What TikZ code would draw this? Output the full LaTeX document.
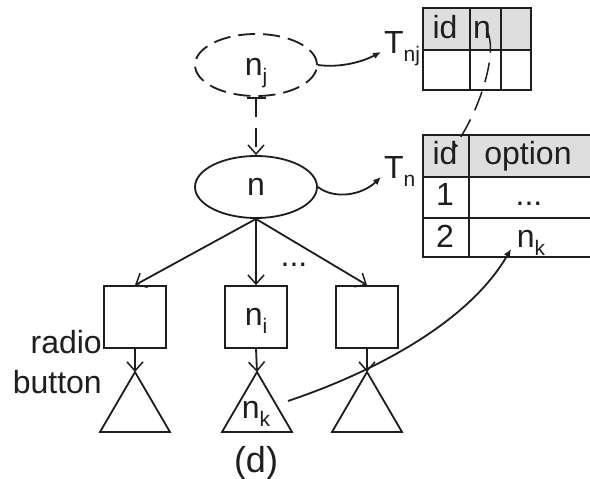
\documentclass[tikz,border=0pt]{standalone}
\usepackage{fontspec}
\setmainfont{Liberation Sans}
\usetikzlibrary{arrows.meta,shapes.geometric}
\definecolor{ink}{RGB}{30,30,30}
\definecolor{hdr}{RGB}{222,222,222}
\newcommand\subx[1]{\raisebox{-0.28em}{\fontsize{21}{21}\selectfont #1}}
\begin{document}
\begin{tikzpicture}[x=1pt,y=-1pt,
  every node/.style={text=ink,font=\fontsize{32}{38}\selectfont},
  ln/.style={draw=ink,line width=1.8pt},
  arr/.style={ln,-{Straight Barb[length=9pt,width=16pt,line width=1.5pt]}},
  carr/.style={ln,-{Latex[length=8pt,width=7pt]}},
  boxn/.style={draw=ink,line width=1.8pt,minimum width=62pt,minimum height=62pt,inner sep=0pt},
  elln/.style={ellipse,draw=ink,line width=1.8pt,minimum width=122pt,minimum height=62pt,inner sep=0pt},
  lbl/.style={anchor=base,inner sep=0pt}]
\useasboundingbox[fill=white] (0,0) rectangle (590,479);

% ellipses
\node[elln,dash pattern=on 17pt off 8pt] (nj) at (256,65) {};
\node[lbl] (njt) at (256,75) {n\subx{j}};
\node[elln] (n) at (256,187) {};
\node[lbl] (nt) at (256,195) {n};

% dashed link with tee
\coordinate (tee) at (256,97);
\draw[ln,dash pattern=on 19pt off 11pt,{Bar[width=19pt,line width=1.8pt]}-{Straight Barb[length=9pt,width=16pt,line width=1.5pt]}] (tee) -- (n.north);

% table T_nj
\fill[hdr] (423,8) rectangle (531,50);
\draw[ln] (423,8) rectangle (531,90);
\draw[ln] (423,50) -- (531,50) (470,8) -- (470,90) (501,8) -- (501,90);
\node[lbl] (t1id) at (445,38) {id};
\node[lbl] (t1n) at (482,38) {n};

% table T_n
\fill[hdr] (423,135) rectangle (596,177);
\draw[ln] (596,135) -- (423,135) -- (423,257) -- (596,257);
\draw[ln] (423,177) -- (596,177) (423,218) -- (596,218) (469,135) -- (469,257);
\node[lbl] (t2id) at (445,164) {id};
\node[lbl] (t2opt) at (528,164) {option};
\node[lbl] (t2one) at (445,205) {1};
\node[lbl] (t2dots) at (529,205) {...};
\node[lbl] (t2two) at (445,247) {2};
\node[lbl] (t2nk) at (531,247) {n\subx{k}};

% table names
\node[anchor=base west,inner sep=0pt] (tnj) at (384,53) {T\subx{nj}};
\node[anchor=base west,inner sep=0pt] (tn) at (384,178) {T\subx{n}};
\coordinate (tnjend) at (381,52);
\coordinate (tnend) at (381,177);
\draw[carr] (nj.east) .. controls (340,68) and (362,62) .. (tnjend);
\draw[carr] (n.east) .. controls (335,200) and (362,195) .. (tnend);

% dashed reference from T_nj to T_n
\coordinate (dstart) at (488,33);
\coordinate (dend) at (452,150);
\draw[ln,line width=1.5pt,dash pattern=on 20pt off 10pt,-{Latex[length=7pt,width=6pt]}] (dstart) .. controls (497,55) and (480,110) .. (dend);

% boxes
\node[boxn] (b1) at (135,317) {};
\node[boxn] (b2) at (256,317) {};
\node[boxn] (b3) at (367,317) {};
\node[lbl] (nit) at (256,325) {n\subx{i}};

\draw[arr] (n.south) -- (b1.north);
\draw[arr] (n.south) -- (b2.north);
\draw[arr] (n.south) -- (b3.north);
\node[lbl] (dots) at (294,266) {...};

% triangles
\coordinate (t1) at (135,372);
\coordinate (t2) at (257,372);
\coordinate (t3) at (367,372);
\draw[ln,line join=miter] (t1) -- ++(-35,60) -- ++(70,0) -- cycle;
\draw[ln,line join=miter] (t2) -- ++(-35,60) -- ++(70,0) -- cycle;
\draw[ln,line join=miter] (t3) -- ++(-35,60) -- ++(70,0) -- cycle;
\draw[arr] (b1.south) -- (t1);
\draw[arr] (b2.south) -- (t2);
\draw[arr] (b3.south) -- (t3);
\node[lbl] (nkt) at (256,418) {n\subx{k}};

% link from n_k subtree to table
\coordinate (kstart) at (288,401);
\coordinate (kend) at (511,249);
\draw[carr] (kstart) .. controls (380,370) and (470,320) .. (kend);

% labels
\node[align=right,anchor=east,inner sep=0pt,font=\fontsize{32}{40}\selectfont] (radio) at (102,362) {radio\\button};
\node[lbl,font=\fontsize{36}{40}\selectfont] (d) at (256,472) {(d)};
\end{tikzpicture}
\end{document}
